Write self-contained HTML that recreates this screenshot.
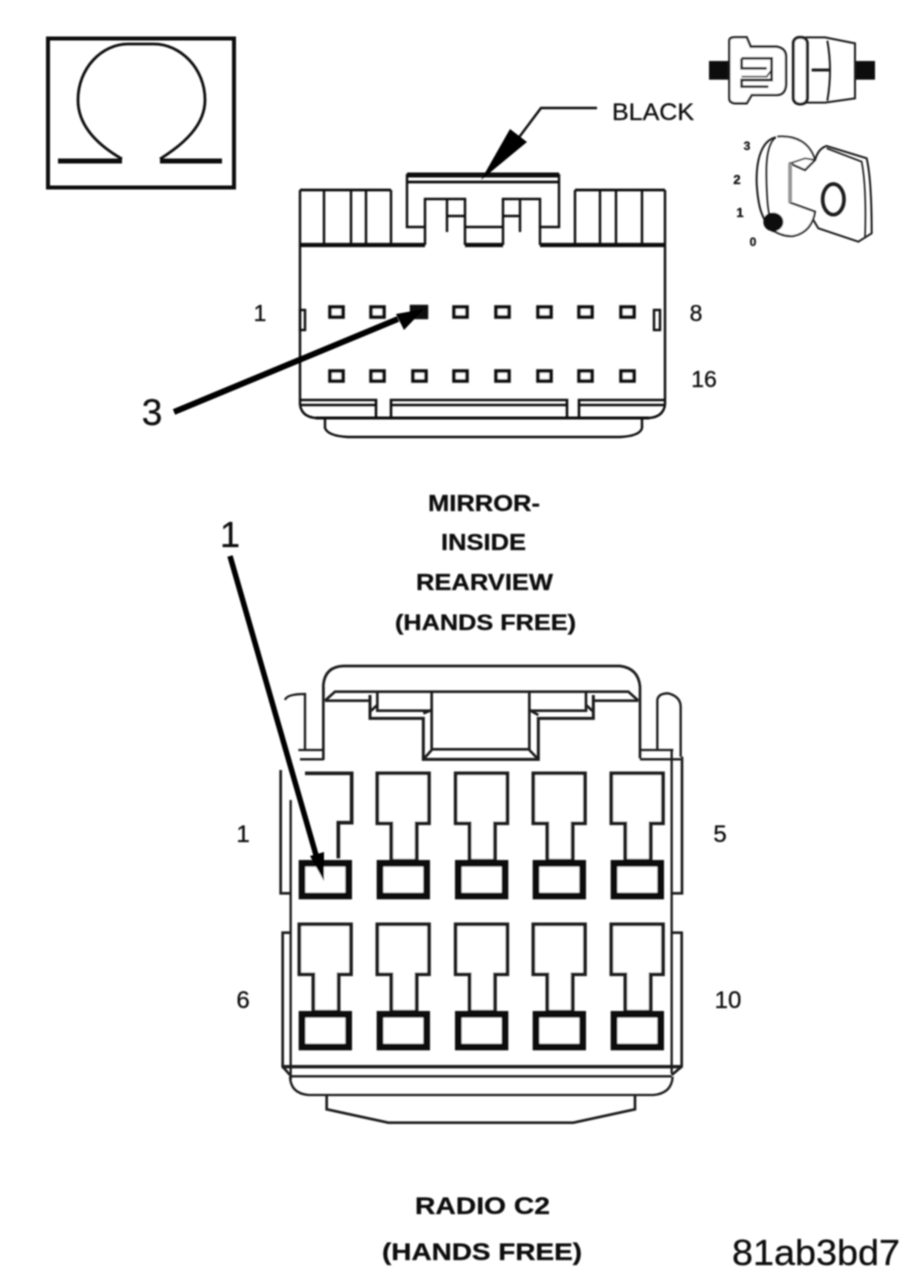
<!DOCTYPE html>
<html>
<head>
<meta charset="utf-8">
<style>
html,body{margin:0;padding:0;background:#fff;width:917px;height:1284px;overflow:hidden}
svg{display:block}
text{font-family:"Liberation Sans",sans-serif;fill:#111;stroke:#111;stroke-width:.3px}
</style>
</head>
<body>
<svg width="917" height="1284" viewBox="0 0 917 1284" xmlns="http://www.w3.org/2000/svg">
<defs>
<filter id="b" x="-5%" y="-5%" width="110%" height="110%"><feGaussianBlur stdDeviation="0.75"/></filter>
<g id="term1" fill="none" stroke="#1c1c1c" stroke-width="11">
  <path d="M0 0H155V150H118V262H42V150H0Z" fill="#fff"/>
</g>
<g id="sq" fill="#fff" stroke="#111" stroke-width="20">
  <rect x="8" y="8" width="140" height="98"/>
</g>
</defs>
<g filter="url(#b)">
<!-- Omega -->
<rect x="48" y="38.500" width="186" height="149" fill="none" stroke="#111" stroke-width="4"/>
<path d="M122 159C96 144 78 125 78 100C78 68 102 44 128 44H154C180 44 205 68 205 100C205 125 184 144 160 159" fill="none" stroke="#111" stroke-width="2.800"/>
<path d="M58 161H122M160 161H222" stroke="#111" stroke-width="5" fill="none"/>

<!-- Top connector -->
<g fill="none" stroke="#111" stroke-width="2.400">
  <path d="M300 190H391M575 190H665" stroke-width="2.800"/>
  <path d="M300 190V405M665 190V405"/>
  <path d="M324 190V245M351 190V245M366 190V245M391 190V245M575 190V245M600 190V245M616 190V245M642 190V245"/>
  <path d="M300 245H425M540 245H665" stroke-width="4.200"/>
  <path d="M465 245H503" stroke-width="4.200"/>
  <path d="M407 175H559" stroke-width="5"/>
  <path d="M407 182H559" stroke-width="2.800"/>
  <path d="M407 174V227H425V245M559 174V227H540V245"/>
  <path d="M425 227V199H465V245M503 245V199H540V227"/>
  <path d="M447 199V232M447 216H465M465 227H503M520 199V232M503 216H520"/>
  <path d="M300 400H376V417M391 417V400H567V417M579 417V400H665" stroke-width="2.600"/>
  <path d="M300 405Q302 417 316 418H649Q663 417 665 405M300 405H376M391 405H567M579 405H665"/>
  <path d="M316 418H649" stroke-width="3"/>
  <path d="M325 418V428Q328 436 348 437H620Q640 436 642 428V418"/>
  <rect x="300" y="310" width="5" height="20"/>
  <rect x="654" y="310" width="6" height="20"/>
  <g stroke="#111" stroke-width="3.600" fill="#fff">
    <rect x="330" y="307" width="13" height="10"/><rect x="371" y="307" width="13" height="10"/><rect x="454" y="307" width="13" height="10"/><rect x="496" y="307" width="13" height="10"/><rect x="538" y="307" width="13" height="10"/><rect x="579" y="307" width="13" height="10"/><rect x="621" y="307" width="13" height="10"/>
    <rect x="330" y="371" width="13" height="10"/><rect x="371" y="371" width="13" height="10"/><rect x="413" y="371" width="13" height="10"/><rect x="454" y="371" width="13" height="10"/><rect x="496" y="371" width="13" height="10"/><rect x="538" y="371" width="13" height="10"/><rect x="579" y="371" width="13" height="10"/><rect x="621" y="371" width="13" height="10"/>
  </g>
  <rect x="411" y="306" width="16" height="12" fill="#111"/>
</g>
<!-- arrow 3 -->
<path d="M174 412L398 319" stroke="#000" stroke-width="6" fill="none"/>
<path d="M424 309L396 314L404 330Z" fill="#000"/>
<!-- BLACK leader -->
<path d="M597 108H541L517 140" stroke="#111" stroke-width="2.400" fill="none"/>
<path d="M481 180L510 129L527 142Z" fill="#000"/>

<!-- Switch / key icon -->
<g transform="translate(690 20) scale(.33333)" fill="none" stroke="#1c1c1c" stroke-width="7">
  <rect x="57" y="123" width="62" height="56" fill="#111" stroke="none"/>
  <rect x="497" y="123" width="58" height="56" fill="#111" stroke="none"/>
  <path d="M118 62Q118 52 135 52H170L182 80H260Q288 85 288 110V195Q285 225 260 225H185L170 250H135Q118 248 118 235Z" fill="#fff"/>
  <path d="M155 115V145H230M155 115H245V180H155V200H235" stroke-width="8"/>
  <path d="M155 170H230L245 150" stroke-width="5"/>
  <rect x="310" y="52" width="42" height="200" rx="18" fill="#fff" stroke-width="9"/>
  <path d="M345 52H405L495 70V235L405 248H345" stroke-width="6"/>
  <path d="M412 62Q428 150 412 242" stroke-width="6"/>
  <path d="M365 150H418" stroke-width="9"/>
  <path d="M258 352C215 360 198 420 200 490C204 560 215 600 250 635" stroke-width="6"/>
  <path d="M262 350C320 345 360 370 375 420L345 450L300 430V548L375 575C370 610 350 640 310 648C285 650 260 640 240 625" fill="#fff" stroke-width="6"/>
  <path d="M258 352C222 375 228 470 232 540C234 570 238 590 245 610" stroke-width="5"/>
  <path d="M300 430L345 415L375 420" stroke-width="5"/>
  <path d="M300 430V548" stroke="#999" stroke-width="12"/>
  <path d="M375 420Q385 385 410 378L530 415Q545 480 545 640L505 665L385 625L370 600" stroke-width="6"/>
  <path d="M410 385L515 425Q530 500 525 655" stroke-width="5"/>
  <ellipse cx="250" cy="606" rx="30" ry="28" fill="#111" stroke="none"/>
  <ellipse cx="430" cy="538" rx="32" ry="46" stroke-width="11"/>
</g>
<text x="747" y="150" font-size="12" font-weight="bold" text-anchor="middle">3</text>
<text x="737" y="184" font-size="13" font-weight="bold" text-anchor="middle">2</text>
<text x="740" y="217" font-size="13" font-weight="bold" text-anchor="middle">1</text>
<text x="753" y="246" font-size="12" font-weight="bold" text-anchor="middle">0</text>

<!-- Bottom connector -->
<g transform="translate(260 650) scale(.33333)" fill="none" stroke="#1a1a1a" stroke-width="8">
  <path d="M190 140V105Q195 50 250 48H1080Q1135 55 1140 110V325"/>
  <path d="M190 110V330"/>
  <path d="M195 152L225 125H1105L1135 152M195 152H330M1000 152H1135"/>
  <path d="M330 135V205H490V328H835V205H1000V135" stroke-width="9"/>
  <path d="M352 128V182H515M515 122V298H808V122M808 182H978V128"/>
  <path d="M330 185L352 165M490 190L515 180M490 328L515 300M835 328L808 300M835 195L808 180M1000 185L978 165"/>
  <path d="M75 150Q80 132 135 132V300M115 300H190M120 328H190" stroke-width="7"/>
  <path d="M1192 300V150Q1195 130 1225 130Q1262 140 1262 170V320M1140 300H1240M1140 328H1262M1235 300V1270" stroke-width="7"/>
  <path d="M92 450V1290" stroke-width="7"/>
  <path d="M62 360V730H92M92 848H68V1250L90 1275M1235 730H1266V320M1235 848H1265V1250L1235 1275" stroke-width="8"/>
  <path d="M65 1250H1265" stroke-width="10"/>
  <path d="M90 1279H1235" stroke-width="7"/>
  <path d="M90 1280Q92 1330 145 1335H1180Q1235 1330 1238 1280" stroke-width="7"/>
  <path d="M200 1335V1378L385 1418H940L1125 1378V1335" stroke-width="8"/>

  <!-- first terminal row 1: partly hidden by arrow -->
  <path d="M135 370H275V518H235V625" stroke-width="11"/>
  <use href="#term1" x="352" y="370"/><use href="#term1" x="587" y="370"/><use href="#term1" x="820" y="370"/><use href="#term1" x="1054" y="370"/>
  <use href="#term1" x="118" y="823"/><use href="#term1" x="352" y="823"/><use href="#term1" x="587" y="823"/><use href="#term1" x="820" y="823"/><use href="#term1" x="1054" y="823"/>
  <use href="#sq" x="118" y="632"/><use href="#sq" x="352" y="632"/><use href="#sq" x="587" y="632"/><use href="#sq" x="820" y="632"/><use href="#sq" x="1054" y="632"/>
  <use href="#sq" x="118" y="1085"/><use href="#sq" x="352" y="1085"/><use href="#sq" x="587" y="1085"/><use href="#sq" x="820" y="1085"/><use href="#sq" x="1054" y="1085"/>
</g>
<!-- arrow 1 -->
<path d="M230 556L316 855" stroke="#000" stroke-width="5.500" fill="none"/>
<path d="M324 881L310 856L324 852Z" fill="#000"/>

<!-- Labels -->
<text x="612" y="120" font-size="24" textLength="82" lengthAdjust="spacingAndGlyphs">BLACK</text>
<text x="260" y="321" font-size="23" text-anchor="middle">1</text>
<text x="696" y="321" font-size="23" text-anchor="middle">8</text>
<text x="704" y="387" font-size="23" text-anchor="middle">16</text>
<text x="152" y="425" font-size="37" text-anchor="middle">3</text>
<text x="230" y="547" font-size="36" text-anchor="middle">1</text>
<text x="428" y="511" font-size="23" font-weight="bold" textLength="112" lengthAdjust="spacingAndGlyphs">MIRROR-</text>
<text x="441" y="550" font-size="23" font-weight="bold" textLength="85" lengthAdjust="spacingAndGlyphs">INSIDE</text>
<text x="416" y="590" font-size="23" font-weight="bold" textLength="137" lengthAdjust="spacingAndGlyphs">REARVIEW</text>
<text x="395" y="630" font-size="22" font-weight="bold" textLength="181" lengthAdjust="spacingAndGlyphs">(HANDS FREE)</text>
<text x="243" y="842" font-size="24" text-anchor="middle">1</text>
<text x="720" y="842" font-size="24" text-anchor="middle">5</text>
<text x="243" y="1008" font-size="24" text-anchor="middle">6</text>
<text x="728" y="1008" font-size="24" text-anchor="middle">10</text>
<text x="415" y="1214" font-size="24" font-weight="bold" textLength="135" lengthAdjust="spacingAndGlyphs">RADIO C2</text>
<text x="382" y="1260" font-size="24" font-weight="bold" textLength="200" lengthAdjust="spacingAndGlyphs">(HANDS FREE)</text>
<text x="732" y="1265" font-size="36" textLength="168" lengthAdjust="spacingAndGlyphs">81ab3bd7</text>
</g>
</svg>
</body>
</html>
